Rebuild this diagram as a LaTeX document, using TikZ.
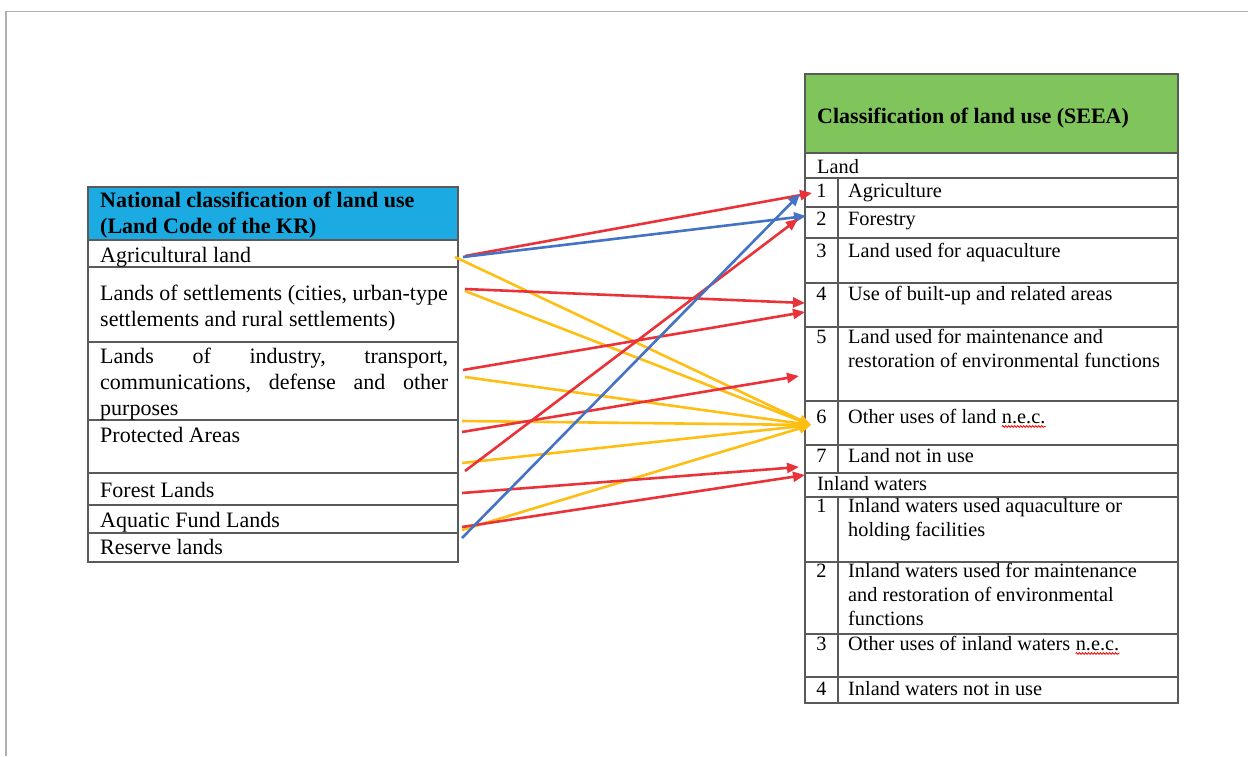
\documentclass[tikz,border=0pt]{standalone}
\usepackage{fontspec}
\setmainfont{Liberation Serif}
\usetikzlibrary{arrows.meta,decorations.pathmorphing}
\definecolor{ared}{RGB}{234,51,56}
\definecolor{ablue}{RGB}{68,114,196}
\definecolor{ayel}{RGB}{255,190,20}
\definecolor{lhead}{RGB}{27,170,225}
\definecolor{rhead}{RGB}{128,196,92}
\definecolor{gridc}{RGB}{90,90,90}
\definecolor{framec}{RGB}{175,175,175}
\begin{document}
\begin{tikzpicture}[x=1pt,y=-1pt,
  grid/.style={draw=gridc,line width=1.8pt},
  ltxt/.style={font=\fontsize{22}{26}\selectfont,anchor=base west,inner sep=0pt},
  lbold/.style={ltxt,font=\fontsize{22}{26}\selectfont\bfseries},
  rtxt/.style={font=\fontsize{20.3}{24}\selectfont,anchor=base west,inner sep=0pt},
  rnum/.style={font=\fontsize{20.3}{24}\selectfont,anchor=base,inner sep=0pt},
  ml/.style={text width=#1,align=left,execute at begin node={\spaceskip=0pt\xspaceskip=0pt\relax}},
  conn/.style={line width=2.6pt,-{Triangle[length=12pt,width=10pt]}},
  spell/.style={draw=red,line width=0.8pt,decorate,decoration={snake,amplitude=0.9pt,segment length=3pt}}]
\useasboundingbox (0,0) rectangle (1248,756);
% outer frame (top and left only)
\draw[framec,line width=1.5pt] (6,756) -- (6,11.5) -- (1248,11.5);

% ---------- left table ----------
\fill[lhead] (88,187) rectangle (458,240);
\draw[grid] (88,187) rectangle (458,562);
\foreach \yy in {240,267,342,420,473,505,533} \draw[grid] (88,\yy) -- (458,\yy);
\node[lbold,ml=360pt] (lh) at (100,207) {National classification of land use\\(Land Code of the KR)};
\node[ltxt] (l1) at (100,262) {Agricultural land};
\node[ltxt,ml=380pt] (l2) at (100,300) {Lands of settlements (cities, urban-type\\settlements and rural settlements)};
\node[ltxt,ml=360pt] (l3) at (100,363) {\makebox[348pt][l]{Lands\hfill of\hfill industry,\hfill transport,}\\\makebox[348pt][l]{communications,\hfill defense\hfill and\hfill other}\\purposes};
\node[ltxt] (l4) at (100,442) {Protected Areas};
\node[ltxt] (l5) at (100,497) {Forest Lands};
\node[ltxt] (l6) at (100,527) {Aquatic Fund Lands};
\node[ltxt] (l7) at (100,554) {Reserve lands};

% ---------- right table ----------
\fill[rhead] (805,74) rectangle (1178,153);
\draw[grid] (805,74) rectangle (1178,703);
\foreach \yy in {153,178,207,238,283,327,401,445,473,497,562,634,677} \draw[grid] (805,\yy) -- (1178,\yy);
\draw[grid] (838,178) -- (838,473);
\draw[grid] (838,497) -- (838,703);
\node[lbold] (rh) at (817,123) {Classification of land use (SEEA)};
\node[rtxt] (rland) at (817,173) {Land};
\node[rnum] (n1) at (821.5,197) {1};
\node[rtxt] (r1) at (848,197) {Agriculture};
\node[rnum] (n2) at (821.5,225) {2};
\node[rtxt] (r2) at (848,225) {Forestry};
\node[rnum] (n3) at (821.5,257) {3};
\node[rtxt] (r3) at (848,257) {Land used for aquaculture};
\node[rnum] (n4) at (821.5,300) {4};
\node[rtxt] (r4) at (848,300) {Use of built-up and related areas};
\node[rnum] (n5) at (821.5,343) {5};
\node[rtxt,ml=330pt] (r5) at (848,343) {Land used for maintenance and\\restoration of environmental functions};
\node[rnum] (n6) at (821.5,423) {6};
\node[rtxt] (r6) at (848,423) {Other uses of land};
\node[rtxt] (r6n) at ([xshift=5.1pt]r6.base east) {n.e.c.};
\draw[spell] ([yshift=-3pt]r6n.south west) -- ([yshift=-3pt]r6n.south east);
\node[rnum] (n7) at (821.5,462) {7};
\node[rtxt] (r7) at (848,462) {Land not in use};
\node[rtxt] (rwat) at (817,490) {Inland waters};
\node[rnum] (w1n) at (821.5,512) {1};
\node[rtxt,ml=330pt] (w1) at (848,512) {Inland waters used aquaculture or\\holding facilities};
\node[rnum] (w2n) at (821.5,577) {2};
\node[rtxt,ml=330pt] (w2) at (848,577) {Inland waters used for maintenance\\and restoration of environmental\\functions};
\node[rnum] (w3n) at (821.5,650) {3};
\node[rtxt] (w3) at (848,650) {Other uses of inland waters};
\node[rtxt] (w3x) at ([xshift=5.1pt]w3.base east) {n.e.c.};
\draw[spell] ([yshift=-3pt]w3x.south west) -- ([yshift=-3pt]w3x.south east);
\node[rnum] (w4n) at (821.5,695) {4};
\node[rtxt] (w4) at (848,695) {Inland waters not in use};

% ---------- connector end points ----------
\coordinate (sA1) at (465,256);
\coordinate (sA2) at (463,257);
\coordinate (sA3) at (455,257);
\coordinate (sS1) at (465,289);
\coordinate (sS2) at (465,291);
\coordinate (sI1) at (463,370);
\coordinate (sI2) at (465,377);
\coordinate (sP1) at (462,421);
\coordinate (sP2) at (462,432);
\coordinate (sP3) at (462,463);
\coordinate (sP4) at (465,471);
\coordinate (sF) at (462,493);
\coordinate (sQ1) at (462,527);
\coordinate (sQ2) at (462,530);
\coordinate (sR) at (462,538);
\coordinate (eAgR) at (812,193);
\coordinate (eAgB) at (800,194);
\coordinate (eFoB) at (806,216);
\coordinate (eFoR) at (798,219);
\coordinate (e4a) at (805,303);
\coordinate (e4b) at (805,312);
\coordinate (e5) at (799,376);
\coordinate (e6) at (811,425);
\coordinate (e7) at (799,467);
\coordinate (eIW) at (805,475);

% ---------- connectors ----------
\draw[conn,ayel] (sA3) -- (e6);
\draw[conn,ayel] (sS2) -- (e6);
\draw[conn,ayel] (sI2) -- (e6);
\draw[conn,ayel] (sP1) -- (e6);
\draw[conn,ayel] (sP3) -- (e6);
\draw[conn,ayel] (sQ2) -- (e6);
\draw[conn,ared] (sA1) -- (eAgR);
\draw[conn,ablue] (sA2) -- (eFoB);
\draw[conn,ared] (sS1) -- (e4a);
\draw[conn,ared] (sI1) -- (e4b);
\draw[conn,ared] (sP2) -- (e5);
\draw[conn,ared] (sP4) -- (eFoR);
\draw[conn,ared] (sF) -- (e7);
\draw[conn,ared] (sQ1) -- (eIW);
\draw[conn,ablue] (sR) -- (eAgB);
\end{tikzpicture}
\end{document}
